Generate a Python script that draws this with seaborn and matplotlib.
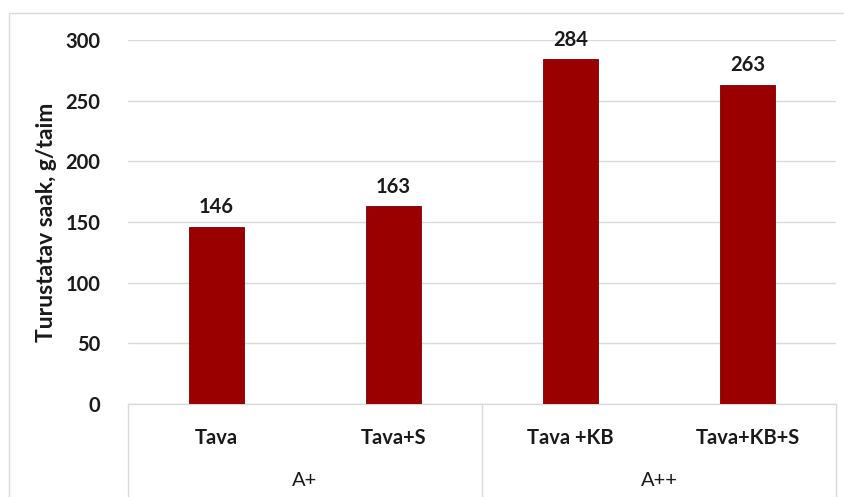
import matplotlib
matplotlib.use("Agg")
import matplotlib.pyplot as plt
import matplotlib.transforms as mtransforms
from matplotlib.patches import Rectangle
from matplotlib.lines import Line2D
import seaborn as sns
import pandas as pd

# Yield per plant by treatment, grouped by fertiliser level
treatments = ["Tava", "Tava+S", "Tava +KB", "Tava+KB+S"]
groups = ["A+", "A+", "A++", "A++"]
yields = [146, 163, 284, 263]
y_ticks = [0, 50, 100, 150, 200, 250, 300]

df = pd.DataFrame({"treatment": treatments, "group": groups, "yield": yields})

sns.set_theme(style="white")
plt.rcParams["font.family"] = ["Lato", "DejaVu Sans"]

fig = plt.figure(figsize=(8.45, 4.97), dpi=100)
ax = fig.add_axes([128 / 845, 93 / 497, (836 - 128) / 845, (404 - 40) / 497])

bar_color = "#9b0000"
sns.barplot(data=df, x="treatment", y="yield", color=bar_color, width=0.31,
            saturation=1, ax=ax, zorder=3)
for p in ax.patches:
    p.set_edgecolor("#7a0000")
    p.set_linewidth(0.6)

ax.set_ylim(0, 300)
ax.set_xlim(-0.5, len(treatments) - 0.5)
ax.set_yticks(y_ticks)
ax.set_yticklabels([str(t) for t in y_ticks], fontsize=14.5, fontweight="bold",
                   color="#1a1a1a")
ax.tick_params(axis="y", length=0, pad=20)
ax.set_xticks([])
ax.set_xlabel("")
ax.set_ylabel("Turustatav saak, g/taim", fontsize=16.5, fontweight="bold",
              color="#1a1a1a")
ax.yaxis.set_label_coords(-0.100, 0.5)

ax.grid(axis="y", color="#d9d9d9", linewidth=1.0, zorder=0)
for side in ["top", "right", "left"]:
    ax.spines[side].set_visible(False)
ax.spines["bottom"].set_color("#d9d9d9")
ax.spines["bottom"].set_linewidth(1.0)

# Value labels above bars
for p, v in zip(ax.patches, yields):
    ax.text(p.get_x() + p.get_width() / 2, v + 8, str(v), ha="center",
            va="bottom", fontsize=14.5, fontweight="bold", color="#1a1a1a")

# Two-level category axis below the plot
trans = mtransforms.blended_transform_factory(ax.transData, fig.transFigure)
for i, t in enumerate(treatments):
    ax.text(i, 1 - 438 / 497, t, transform=trans, ha="center", va="center",
            fontsize=14.5, fontweight="bold", color="#1a1a1a")

group_names = list(dict.fromkeys(groups))
for g in group_names:
    idx = [i for i, gg in enumerate(groups) if gg == g]
    cx = (idx[0] + idx[-1]) / 2
    ax.text(cx, 1 - 480 / 497, g, transform=trans, ha="center", va="center",
            fontsize=14.5, color="#1a1a1a")

bounds = [-0.5] + [i + 0.5 for i in range(len(groups) - 1)
                   if groups[i] != groups[i + 1]] + [len(groups) - 0.5]
for b in bounds:
    ax.add_line(Line2D([b, b], [1 - 404 / 497, 0], transform=trans,
                       color="#d9d9d9", linewidth=1.0, clip_on=False))

# Chart-area frame
fig.patches.append(Rectangle((9 / 845, -0.01), 1.0, 1 - 13 / 497 + 0.01,
                             transform=fig.transFigure, fill=False,
                             edgecolor="#d9d9d9", linewidth=1.0))

fig.savefig("out.png", dpi=100, facecolor="white")
